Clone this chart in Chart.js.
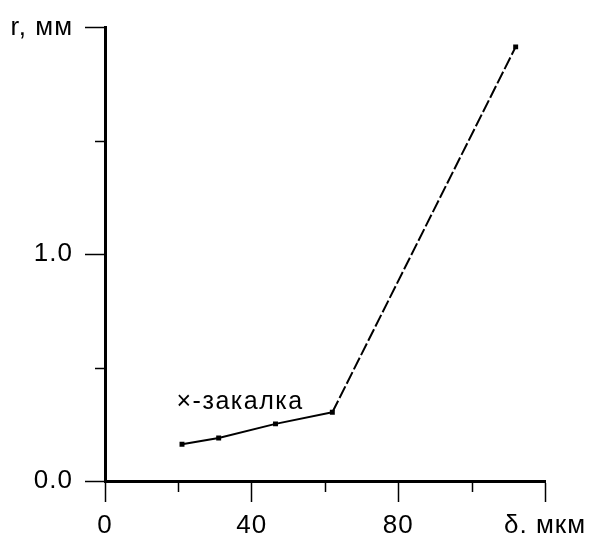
<!DOCTYPE html>
<html>
<head>
<meta charset="utf-8">
<script src="https://cdn.jsdelivr.net/npm/chart.js@4/dist/chart.umd.min.js"></script>
<style>
  html, body { margin: 0; padding: 0; background: #fff; }
  #wrap { width: 600px; height: 533px; }
</style>
</head>
<body>
<div id="wrap"><canvas id="c" width="600" height="533"></canvas></div>
<script>
// Data
const deltaValues = [21, 31, 46.5, 62, 112];        // δ, мкм
const rValues = [0.162, 0.19, 0.252, 0.303, 1.915]; // r, мм
const xTickLabels = {0: '0', 40: '40', 80: '80', 120: 'δ, мкм'};
const yTickLabels = {0: '0.0', 1: '1.0', 2: 'r, мм'};
const noteText = '×-закалка';
const notePos = [19.5, 0.347];

const FONT = "'Liberation Sans', Arial, sans-serif";

const points = deltaValues.map((x, i) => ({x: x, y: rValues[i]}));

const extraPlugin = {
  id: 'extra',
  beforeDraw(chart) {
    chart.ctx.letterSpacing = '1px';
  },
  afterDraw(chart) {
    const ctx = chart.ctx;
    const xs = chart.scales.x, ys = chart.scales.y;
    ctx.save();
    ctx.strokeStyle = '#000';
    ctx.lineWidth = 1.5;
    // minor ticks (shorter)
    [20, 60, 100].forEach(v => {
      const px = Math.round(xs.getPixelForValue(v)) + 0.5;
      ctx.beginPath();
      ctx.moveTo(px, ys.bottom);
      ctx.lineTo(px, ys.bottom + 11);
      ctx.stroke();
    });
    [0.5, 1.5].forEach(v => {
      const py = Math.round(ys.getPixelForValue(v)) + 0.5;
      ctx.beginPath();
      ctx.moveTo(xs.left, py);
      ctx.lineTo(xs.left - 10, py);
      ctx.stroke();
    });
    // note text
    ctx.fillStyle = '#000';
    ctx.font = '25px ' + FONT;
    ctx.letterSpacing = '1.5px';
    ctx.textAlign = 'left';
    ctx.textBaseline = 'middle';
    ctx.fillText(noteText, xs.getPixelForValue(notePos[0]), ys.getPixelForValue(notePos[1]));
    ctx.restore();
  }
};

new Chart(document.getElementById('c'), {
  type: 'line',
  data: {
    datasets: [{
      data: points,
      borderColor: '#000',
      backgroundColor: '#000',
      borderWidth: 2,
      pointStyle: 'rect',
      pointRadius: 3.5,
      pointBorderWidth: 0,
      tension: 0,
      segment: {
        borderDash: c => c.p0DataIndex >= 3 ? [13, 3] : undefined
      }
    }]
  },
  options: {
    responsive: false,
    animation: false,
    devicePixelRatio: 1,
    layout: { padding: { left: 0, top: 23, right: 55, bottom: 0 } },
    plugins: { legend: { display: false }, tooltip: { enabled: false } },
    scales: {
      x: {
        type: 'linear',
        min: 0, max: 120,
        afterFit(s) { s.height = 52; },
        afterBuildTicks(s) { s.ticks = [0, 40, 80, 120].map(v => ({value: v})); },
        border: { display: true, color: '#000', width: 3 },
        grid: { drawOnChartArea: false, drawTicks: true, tickLength: 21, tickWidth: 1.5, tickColor: '#000' },
        ticks: {
          color: '#000',
          font: { family: FONT, size: 26 },
          padding: 8,
          maxRotation: 0,
          autoSkip: false,
          callback: v => xTickLabels[v] !== undefined ? xTickLabels[v] : ''
        }
      },
      y: {
        type: 'linear',
        min: 0, max: 2,
        afterFit(s) { s.width = 105; },
        afterBuildTicks(s) { s.ticks = [0, 1, 2].map(v => ({value: v})); },
        border: { display: true, color: '#000', width: 3 },
        grid: { drawOnChartArea: false, drawTicks: true, tickLength: 20, tickWidth: 1.5, tickColor: '#000' },
        ticks: {
          color: '#000',
          font: { family: FONT, size: 26 },
          padding: 12,
          autoSkip: false,
          callback: v => yTickLabels[v] !== undefined ? yTickLabels[v] : ''
        }
      }
    }
  },
  plugins: [extraPlugin]
});
</script>
</body>
</html>
